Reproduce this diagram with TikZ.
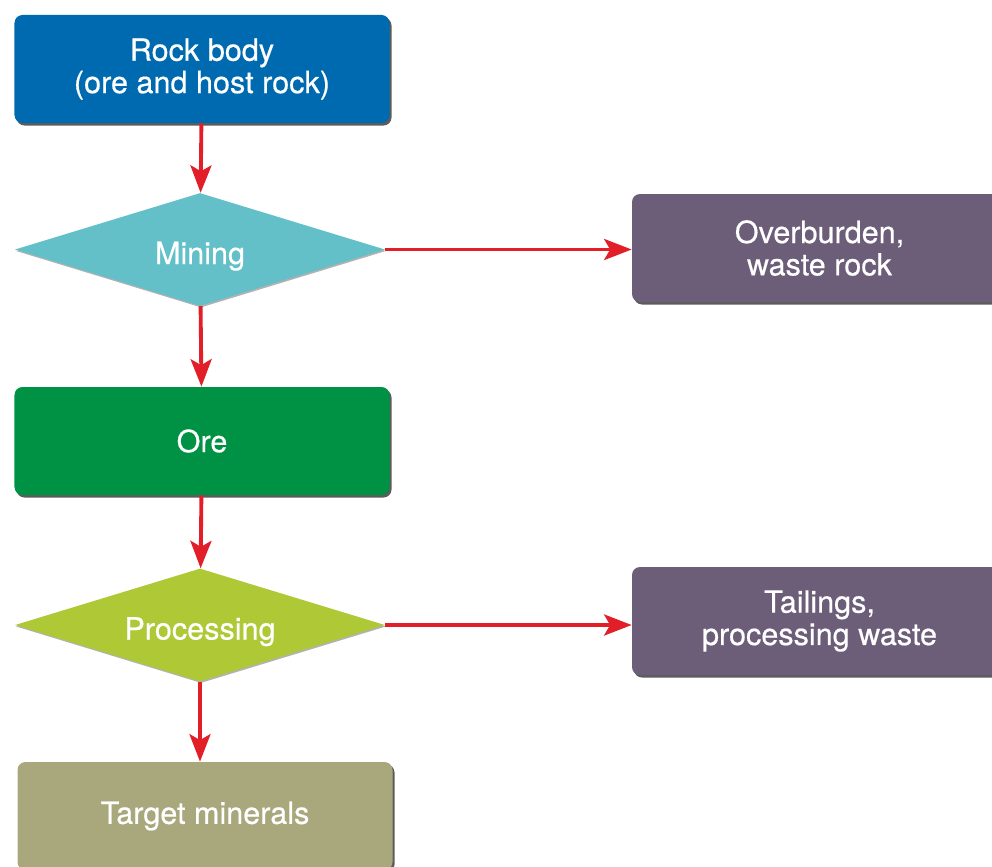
\documentclass[tikz,border=0pt]{standalone}
\usepackage{fontspec}
\setmainfont{TeX Gyre Heros}
\newfontfamily\boxfont[BoldFont={TeX Gyre Heros}, BoldFeatures={FakeBold=0.5}]{TeX Gyre Heros}
\usepackage{tikz}
\usetikzlibrary{shapes.geometric,arrows.meta,shadows}

\definecolor{rockblue}{RGB}{0,106,176}
\definecolor{minecyan}{RGB}{100,192,200}
\definecolor{oregreen}{RGB}{0,146,68}
\definecolor{proclime}{RGB}{175,200,54}
\definecolor{wastepurple}{RGB}{108,94,120}
\definecolor{targetolive}{RGB}{169,167,124}
\definecolor{flowred}{RGB}{226,30,40}

\tikzset{
	box/.style={rectangle, rounded corners=0.16cm, minimum width=7.5cm, minimum height=2.16cm,
		text=white, align=center, font=\boxfont\bfseries\fontsize{17.4}{18.4}\selectfont,
		drop shadow={shadow xshift=0.04cm, shadow yshift=-0.05cm, fill=black!80, opacity=0.8}},
	choice/.style={diamond, shape aspect=3.3, inner sep=0pt, minimum width=7.4cm, minimum height=2.26cm,
		text height=0.73cm, text depth=0.15cm,
		text=white, font=\boxfont\bfseries\fontsize{17.4}{18.4}\selectfont,
		drop shadow={shadow xshift=0.02cm, shadow yshift=-0.03cm, fill=black!60, opacity=0.5}},
	flow/.style={draw=flowred, line width=2.2pt, -{Stealth[length=0.55cm, width=0.42cm, inset=0.12cm]}}
}

\begin{document}
\begin{tikzpicture}
			\useasboundingbox (0,0) rectangle (19.84,-17.32);
			% coluna principal
			\node[box, fill=rockblue] (rock) at (4.04,-1.38) {Rock body\\(ore and host rock)};
			\node[choice, fill=minecyan] (mining) at (4.0,-4.99) {Mining};
			\node[box, fill=oregreen] (ore) at (4.04,-8.82) {Ore};
			\node[choice, fill=proclime] (proc) at (4.0,-12.5) {Processing};
			\node[box, fill=targetolive] (target) at (4.1,-16.32) {Target minerals};
			% residuos
			\node[box, fill=wastepurple] (waste) at (16.39,-4.96) {Overburden,\\waste rock};
			\node[box, fill=wastepurple] (tail) at (16.39,-12.42) {Tailings,\\processing waste};
			% setas
			\draw[flow] (rock) -- (mining);
			\draw[flow] (mining) -- (ore);
			\draw[flow] (ore) -- (proc);
			\draw[flow] (proc) -- (proc |- target.north);
			\draw[flow] (mining.east) -- (mining.east -| waste.west);
			\draw[flow] (proc.east) -- (proc.east -| tail.west);
		\end{tikzpicture}
\end{document}
